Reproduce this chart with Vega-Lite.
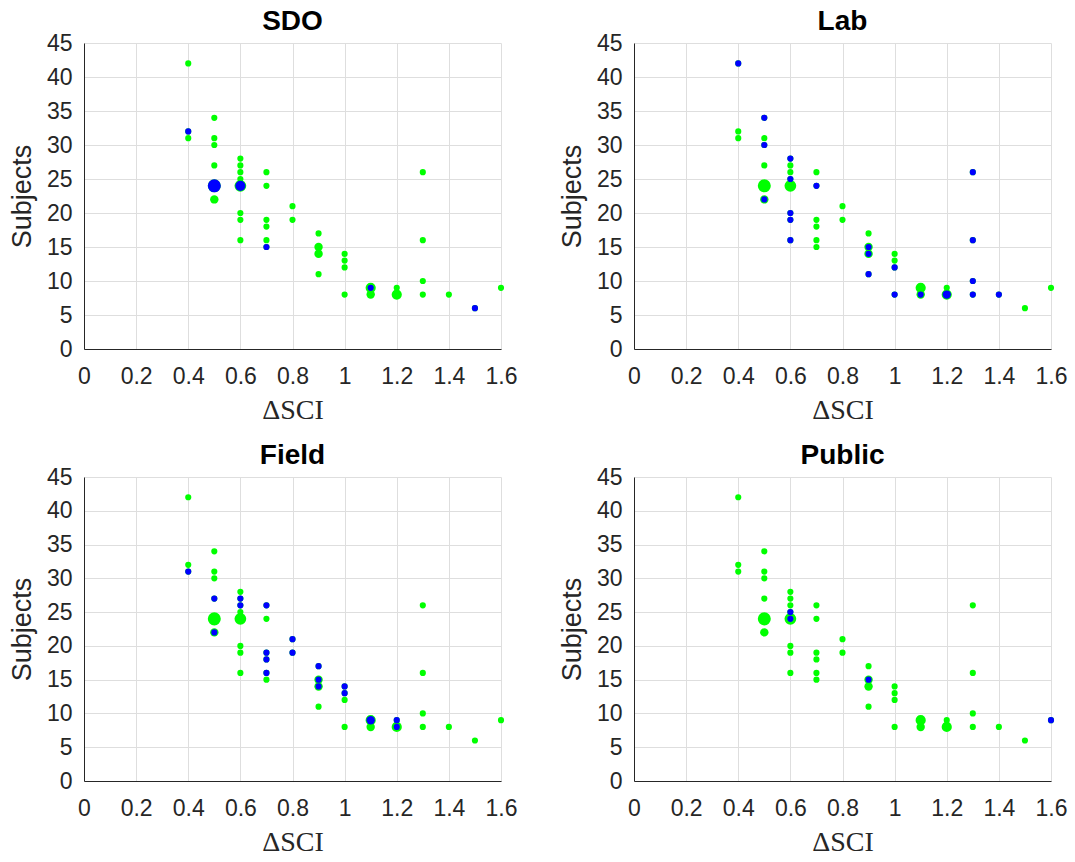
{
  "$schema": "https://vega.github.io/schema/vega-lite/v6.json",
  "background": "white",
  "padding": {"left": 8, "top": 8, "right": 20, "bottom": 4},
  "datasets": {
    "all": [
      {"dS": 0.4, "subjects": 42, "n": 1}, {"dS": 0.4, "subjects": 32, "n": 1}, {"dS": 0.4, "subjects": 31, "n": 1},
      {"dS": 0.5, "subjects": 34, "n": 1}, {"dS": 0.5, "subjects": 31, "n": 1}, {"dS": 0.5, "subjects": 30, "n": 1},
      {"dS": 0.5, "subjects": 27, "n": 1}, {"dS": 0.5, "subjects": 24, "n": 5}, {"dS": 0.5, "subjects": 22, "n": 2},
      {"dS": 0.6, "subjects": 28, "n": 1}, {"dS": 0.6, "subjects": 27, "n": 1}, {"dS": 0.6, "subjects": 26, "n": 1},
      {"dS": 0.6, "subjects": 25, "n": 1}, {"dS": 0.6, "subjects": 24, "n": 4}, {"dS": 0.6, "subjects": 20, "n": 1},
      {"dS": 0.6, "subjects": 19, "n": 1}, {"dS": 0.6, "subjects": 16, "n": 1},
      {"dS": 0.7, "subjects": 26, "n": 1}, {"dS": 0.7, "subjects": 24, "n": 1}, {"dS": 0.7, "subjects": 19, "n": 1},
      {"dS": 0.7, "subjects": 18, "n": 1}, {"dS": 0.7, "subjects": 16, "n": 1}, {"dS": 0.7, "subjects": 15, "n": 1},
      {"dS": 0.8, "subjects": 21, "n": 1}, {"dS": 0.8, "subjects": 19, "n": 1},
      {"dS": 0.9, "subjects": 17, "n": 1}, {"dS": 0.9, "subjects": 15, "n": 2}, {"dS": 0.9, "subjects": 14, "n": 2},
      {"dS": 0.9, "subjects": 11, "n": 1},
      {"dS": 1.0, "subjects": 14, "n": 1}, {"dS": 1.0, "subjects": 13, "n": 1}, {"dS": 1.0, "subjects": 12, "n": 1},
      {"dS": 1.0, "subjects": 8, "n": 1},
      {"dS": 1.1, "subjects": 9, "n": 3}, {"dS": 1.1, "subjects": 8, "n": 2},
      {"dS": 1.2, "subjects": 9, "n": 1}, {"dS": 1.2, "subjects": 8, "n": 3},
      {"dS": 1.3, "subjects": 26, "n": 1}, {"dS": 1.3, "subjects": 16, "n": 1}, {"dS": 1.3, "subjects": 10, "n": 1},
      {"dS": 1.3, "subjects": 8, "n": 1},
      {"dS": 1.4, "subjects": 8, "n": 1}, {"dS": 1.5, "subjects": 6, "n": 1}, {"dS": 1.6, "subjects": 9, "n": 1}
    ],
    "cat": [
      {"group": "SDO", "dS": 0.4, "subjects": 32, "n": 1}, {"group": "SDO", "dS": 0.5, "subjects": 24, "n": 5},
      {"group": "SDO", "dS": 0.6, "subjects": 24, "n": 3}, {"group": "SDO", "dS": 0.7, "subjects": 15, "n": 1},
      {"group": "SDO", "dS": 1.1, "subjects": 9, "n": 1}, {"group": "SDO", "dS": 1.5, "subjects": 6, "n": 1},
      {"group": "Lab", "dS": 0.4, "subjects": 42, "n": 1}, {"group": "Lab", "dS": 0.5, "subjects": 34, "n": 1},
      {"group": "Lab", "dS": 0.5, "subjects": 30, "n": 1}, {"group": "Lab", "dS": 0.5, "subjects": 22, "n": 1},
      {"group": "Lab", "dS": 0.6, "subjects": 28, "n": 1}, {"group": "Lab", "dS": 0.6, "subjects": 25, "n": 1},
      {"group": "Lab", "dS": 0.6, "subjects": 20, "n": 1}, {"group": "Lab", "dS": 0.6, "subjects": 19, "n": 1},
      {"group": "Lab", "dS": 0.6, "subjects": 16, "n": 1}, {"group": "Lab", "dS": 0.7, "subjects": 24, "n": 1},
      {"group": "Lab", "dS": 0.9, "subjects": 15, "n": 1}, {"group": "Lab", "dS": 0.9, "subjects": 14, "n": 1},
      {"group": "Lab", "dS": 0.9, "subjects": 11, "n": 1}, {"group": "Lab", "dS": 1.0, "subjects": 12, "n": 1},
      {"group": "Lab", "dS": 1.0, "subjects": 8, "n": 1}, {"group": "Lab", "dS": 1.1, "subjects": 8, "n": 1},
      {"group": "Lab", "dS": 1.2, "subjects": 8, "n": 2}, {"group": "Lab", "dS": 1.3, "subjects": 26, "n": 1},
      {"group": "Lab", "dS": 1.3, "subjects": 16, "n": 1}, {"group": "Lab", "dS": 1.3, "subjects": 10, "n": 1},
      {"group": "Lab", "dS": 1.3, "subjects": 8, "n": 1}, {"group": "Lab", "dS": 1.4, "subjects": 8, "n": 1},
      {"group": "Field", "dS": 0.4, "subjects": 31, "n": 1}, {"group": "Field", "dS": 0.5, "subjects": 27, "n": 1},
      {"group": "Field", "dS": 0.5, "subjects": 22, "n": 1}, {"group": "Field", "dS": 0.6, "subjects": 27, "n": 1},
      {"group": "Field", "dS": 0.6, "subjects": 26, "n": 1}, {"group": "Field", "dS": 0.7, "subjects": 26, "n": 1},
      {"group": "Field", "dS": 0.7, "subjects": 19, "n": 1}, {"group": "Field", "dS": 0.7, "subjects": 18, "n": 1},
      {"group": "Field", "dS": 0.7, "subjects": 16, "n": 1}, {"group": "Field", "dS": 0.8, "subjects": 21, "n": 1},
      {"group": "Field", "dS": 0.8, "subjects": 19, "n": 1}, {"group": "Field", "dS": 0.9, "subjects": 17, "n": 1},
      {"group": "Field", "dS": 0.9, "subjects": 15, "n": 1}, {"group": "Field", "dS": 0.9, "subjects": 14, "n": 1},
      {"group": "Field", "dS": 1.0, "subjects": 14, "n": 1}, {"group": "Field", "dS": 1.0, "subjects": 13, "n": 1},
      {"group": "Field", "dS": 1.1, "subjects": 9, "n": 2}, {"group": "Field", "dS": 1.2, "subjects": 9, "n": 1},
      {"group": "Field", "dS": 1.2, "subjects": 8, "n": 1},
      {"group": "Public", "dS": 0.6, "subjects": 25, "n": 1}, {"group": "Public", "dS": 0.6, "subjects": 24, "n": 1},
      {"group": "Public", "dS": 0.9, "subjects": 15, "n": 1}, {"group": "Public", "dS": 1.6, "subjects": 9, "n": 1}
    ]
  },
  "config": {
    "view": {"stroke": null},
    "font": "Liberation Sans",
    "title": {"fontSize": 28, "fontWeight": "bold", "color": "#000000", "font": "Liberation Sans", "offset": -4},
    "axis": {
      "labelFont": "Liberation Sans", "labelFontSize": 23, "labelColor": "#262626",
      "titleFont": "Liberation Sans", "titleFontSize": 27, "titleColor": "#262626", "titleFontWeight": "normal",
      "gridColor": "#dedede", "gridOpacity": 1, "gridWidth": 1,
      "domainColor": "#262626", "domainWidth": 1,
      "ticks": false, "tickSize": 0,
      "labelFlush": false, "labelOverlap": false, "labelBound": false
    }
  },
  "columns": 2,
  "bounds": "flush",
  "spacing": {"row": 128, "column": 133},
  "concat": [
    {
      "title": "SDO", "width": 417, "height": 306,
      "encoding": {
        "x": {"field": "dS", "type": "quantitative", "scale": {"domain": [0, 1.6], "nice": false}, "axis": {"values": [0, 0.2, 0.4, 0.6, 0.8, 1, 1.2, 1.4, 1.6], "format": "~g", "title": "ΔSCI", "titleFont": "Liberation Serif", "titleFontSize": 28, "labelPadding": 16, "titlePadding": 8}},
        "y": {"field": "subjects", "type": "quantitative", "scale": {"domain": [0, 45], "nice": false}, "axis": {"values": [0, 5, 10, 15, 20, 25, 30, 35, 40, 45], "tickCount": 10, "title": "Subjects", "labelPadding": 12, "titlePadding": 10}},
        "size": {"field": "n", "type": "quantitative", "scale": {"type": "linear", "zero": false, "domain": [1, 5], "range": [38, 170]}, "legend": null}
      },
      "layer": [
        {"data": {"name": "all"}, "mark": {"type": "circle", "color": "#00ff00", "opacity": 1}},
        {"data": {"name": "cat"}, "transform": [{"filter": "datum.group === 'SDO'"}], "mark": {"type": "circle", "color": "#0000ff", "opacity": 1}}
      ]
    },
    {
      "title": "Lab", "width": 417, "height": 306,
      "encoding": {
        "x": {"field": "dS", "type": "quantitative", "scale": {"domain": [0, 1.6], "nice": false}, "axis": {"values": [0, 0.2, 0.4, 0.6, 0.8, 1, 1.2, 1.4, 1.6], "format": "~g", "title": "ΔSCI", "titleFont": "Liberation Serif", "titleFontSize": 28, "labelPadding": 16, "titlePadding": 8}},
        "y": {"field": "subjects", "type": "quantitative", "scale": {"domain": [0, 45], "nice": false}, "axis": {"values": [0, 5, 10, 15, 20, 25, 30, 35, 40, 45], "tickCount": 10, "title": "Subjects", "labelPadding": 12, "titlePadding": 10}},
        "size": {"field": "n", "type": "quantitative", "scale": {"type": "linear", "zero": false, "domain": [1, 5], "range": [38, 170]}, "legend": null}
      },
      "layer": [
        {"data": {"name": "all"}, "mark": {"type": "circle", "color": "#00ff00", "opacity": 1}},
        {"data": {"name": "cat"}, "transform": [{"filter": "datum.group === 'Lab'"}], "mark": {"type": "circle", "color": "#0000ff", "opacity": 1}}
      ]
    },
    {
      "title": "Field", "width": 417, "height": 304,
      "encoding": {
        "x": {"field": "dS", "type": "quantitative", "scale": {"domain": [0, 1.6], "nice": false}, "axis": {"values": [0, 0.2, 0.4, 0.6, 0.8, 1, 1.2, 1.4, 1.6], "format": "~g", "title": "ΔSCI", "titleFont": "Liberation Serif", "titleFontSize": 28, "labelPadding": 16, "titlePadding": 8}},
        "y": {"field": "subjects", "type": "quantitative", "scale": {"domain": [0, 45], "nice": false}, "axis": {"values": [0, 5, 10, 15, 20, 25, 30, 35, 40, 45], "tickCount": 10, "title": "Subjects", "labelPadding": 12, "titlePadding": 10}},
        "size": {"field": "n", "type": "quantitative", "scale": {"type": "linear", "zero": false, "domain": [1, 5], "range": [38, 170]}, "legend": null}
      },
      "layer": [
        {"data": {"name": "all"}, "mark": {"type": "circle", "color": "#00ff00", "opacity": 1}},
        {"data": {"name": "cat"}, "transform": [{"filter": "datum.group === 'Field'"}], "mark": {"type": "circle", "color": "#0000ff", "opacity": 1}}
      ]
    },
    {
      "title": "Public", "width": 417, "height": 304,
      "encoding": {
        "x": {"field": "dS", "type": "quantitative", "scale": {"domain": [0, 1.6], "nice": false}, "axis": {"values": [0, 0.2, 0.4, 0.6, 0.8, 1, 1.2, 1.4, 1.6], "format": "~g", "title": "ΔSCI", "titleFont": "Liberation Serif", "titleFontSize": 28, "labelPadding": 16, "titlePadding": 8}},
        "y": {"field": "subjects", "type": "quantitative", "scale": {"domain": [0, 45], "nice": false}, "axis": {"values": [0, 5, 10, 15, 20, 25, 30, 35, 40, 45], "tickCount": 10, "title": "Subjects", "labelPadding": 12, "titlePadding": 10}},
        "size": {"field": "n", "type": "quantitative", "scale": {"type": "linear", "zero": false, "domain": [1, 5], "range": [38, 170]}, "legend": null}
      },
      "layer": [
        {"data": {"name": "all"}, "mark": {"type": "circle", "color": "#00ff00", "opacity": 1}},
        {"data": {"name": "cat"}, "transform": [{"filter": "datum.group === 'Public'"}], "mark": {"type": "circle", "color": "#0000ff", "opacity": 1}}
      ]
    }
  ]
}
